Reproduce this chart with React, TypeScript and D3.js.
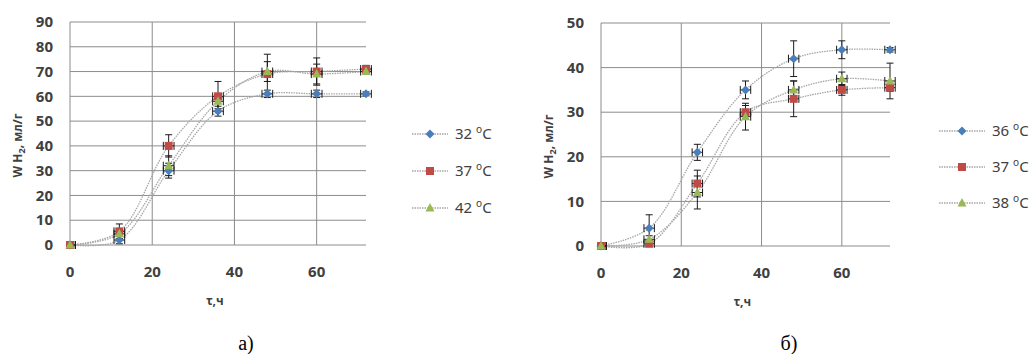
import * as d3 from "d3";

// ————— Data —————
const hours = [0, 12, 24, 36, 48, 60, 72];

// panel a)
const tempsA = ["32", "37", "42"];
const wA32 = [0, 2, 30, 54, 61, 61, 61];
const wA37 = [0, 5.5, 40, 60, 69, 70, 71];
const wA42 = [0, 4.5, 32, 58, 70, 69, 70];
const errA32 = [0.8, 1.5, 3, 2, 1.5, 1.5, 0.8];
const errA37 = [0.8, 3, 4.5, 6, 8, 5.5, 1.5];
const errA42 = [0.5, 2, 4, 3, 4, 4, 1];
const yTicksA = [0, 10, 20, 30, 40, 50, 60, 70, 80, 90];

// panel б)
const tempsB = ["36", "37", "38"];
const wB36 = [0, 4, 21, 35, 42, 44, 44];
const wB37 = [0, 0.5, 14, 30, 33, 35, 35.5];
const wB38 = [0, 1.5, 12, 29, 35, 37.5, 37];
const errB36 = [0.5, 3, 1.8, 2, 4, 2, 0.5];
const errB37 = [0.5, 0.8, 3, 1.5, 4, 1.2, 0.8];
const errB38 = [0.5, 0.8, 3.7, 3, 2, 1.5, 4];
const yTicksB = [0, 10, 20, 30, 40, 50];

const xTicks = [0, 20, 40, 60];
const xErr = 1.3;

const colors = ["#4a7ebb", "#be4b48", "#98b954"];
const textColor = "#404040";
const gridColor = "#8c8c8c";
const font = "'Noto Sans', 'Open Sans', sans-serif";

type Series = { label: string; values: number[]; errs: number[] };

type PanelProps = {
  left: number;
  right: number;
  top: number;
  bottom: number;
  yMax: number;
  yTicks: number[];
  series: Series[];
  legendX: number;
  legendW: number;
  legendY: number[];
  caption: string;
  captionX: number;
};

const Marker = ({ i, x, y }: { i: number; x: number; y: number }) => {
  if (i === 0) {
    const s = 4.5;
    return (
      <path
        d={`M${x},${y - s}L${x + s},${y}L${x},${y + s}L${x - s},${y}Z`}
        fill={colors[0]}
      />
    );
  }
  if (i === 1) {
    return <rect x={x - 4} y={y - 4} width={8} height={8} fill={colors[1]} />;
  }
  return (
    <path
      d={`M${x},${y - 5}L${x + 4.5},${y + 3.5}L${x - 4.5},${y + 3.5}Z`}
      fill={colors[2]}
    />
  );
};

const Panel = (p: PanelProps) => {
  const x = d3.scaleLinear().domain([0, 72]).range([p.left, p.right]);
  const y = d3.scaleLinear().domain([0, p.yMax]).range([p.bottom, p.top]);
  const line = d3
    .line<number>()
    .x((_, i) => x(hours[i]))
    .y((d) => y(d))
    .curve(d3.curveCatmullRom.alpha(0.5));

  return (
    <g>
      {/* grid */}
      {p.yTicks.map((t) => (
        <line
          key={"gy" + t}
          x1={p.left}
          x2={p.right}
          y1={y(t)}
          y2={y(t)}
          stroke={gridColor}
          strokeWidth={1}
        />
      ))}
      {xTicks.map((t) => (
        <line
          key={"gx" + t}
          x1={x(t)}
          x2={x(t)}
          y1={p.top}
          y2={p.bottom}
          stroke={gridColor}
          strokeWidth={1}
        />
      ))}
      {/* tick labels */}
      {p.yTicks.map((t) => (
        <text
          key={"ty" + t}
          x={p.left - 17}
          y={y(t)}
          dy="0.35em"
          textAnchor="end"
          fontSize={15}
          fontWeight="bold"
          fill={textColor}
        >
          {t}
        </text>
      ))}
      {xTicks.map((t) => (
        <text
          key={"tx" + t}
          x={x(t)}
          y={p.bottom + 27}
          dy="0.35em"
          textAnchor="middle"
          fontSize={15}
          fontWeight="bold"
          fill={textColor}
        >
          {t}
        </text>
      ))}
      {/* axis titles */}
      <text
        transform={`translate(${p.left - 52},${(p.top + p.bottom) / 2 + 12}) rotate(-90)`}
        textAnchor="middle"
        dy="0.35em"
        fontSize={12}
        fontWeight="bold"
        fill={textColor}
      >
        W H<tspan fontSize={9} dy="3">2</tspan>
        <tspan dy="-3">, мл/г</tspan>
      </text>
      <text
        x={(p.left + p.right) / 2 - 3}
        y={p.bottom + 56}
        dy="0.35em"
        textAnchor="middle"
        fontSize={12}
        fontWeight="bold"
        fill={textColor}
      >
        τ,ч
      </text>
      {/* curves */}
      {p.series.map((s, i) => (
        <path
          key={"c" + i}
          d={line(s.values) || ""}
          fill="none"
          stroke="#a6a6a6"
          strokeWidth={1.3}
          strokeDasharray="1.5,1"
        />
      ))}
      {/* error bars */}
      {p.series.map((s, i) =>
        s.values.map((v, j) => {
          const cx = x(hours[j]);
          const cy = y(v);
          const y1 = y(v + s.errs[j]);
          const y2 = y(Math.max(0, v - s.errs[j]));
          const x1 = x(Math.max(0, hours[j] - xErr));
          const x2 = x(hours[j] + xErr);
          return (
            <g key={`e${i}-${j}`} stroke="#1a1a1a" strokeWidth={1}>
              <line x1={cx} x2={cx} y1={y1} y2={y2} />
              <line x1={cx - 3.5} x2={cx + 3.5} y1={y1} y2={y1} />
              <line x1={cx - 3.5} x2={cx + 3.5} y1={y2} y2={y2} />
              <line x1={x1} x2={x2} y1={cy} y2={cy} />
              <line x1={x1} x2={x1} y1={cy - 4} y2={cy + 4} />
              <line x1={x2} x2={x2} y1={cy - 4} y2={cy + 4} />
            </g>
          );
        })
      )}
      {/* markers */}
      {p.series.map((s, i) =>
        s.values.map((v, j) => (
          <Marker key={`m${i}-${j}`} i={i} x={x(hours[j])} y={y(v)} />
        ))
      )}
      {/* legend */}
      {p.series.map((s, i) => (
        <g key={"l" + i}>
          <line
            x1={p.legendX}
            x2={p.legendX + p.legendW}
            y1={p.legendY[i]}
            y2={p.legendY[i]}
            stroke="#a6a6a6"
            strokeWidth={1.3}
            strokeDasharray="1.5,1"
          />
          <Marker i={i} x={p.legendX + p.legendW / 2} y={p.legendY[i]} />
          <text
            x={p.legendX + p.legendW + 7}
            y={p.legendY[i]}
            dy="0.35em"
            fontSize={15}
            fill={textColor}
          >
            {s.label} <tspan fontSize={10} dy="-6">o</tspan>
            <tspan dy="6">C</tspan>
          </text>
        </g>
      ))}
      {/* caption */}
      <text
        x={p.captionX}
        y={343}
        dy="0.35em"
        textAnchor="middle"
        fontSize={20}
        fontFamily="'Liberation Serif', 'DejaVu Serif', serif"
        fill="#000"
      >
        {p.caption}
      </text>
    </g>
  );
};

const App = () => {
  const seriesA: Series[] = [
    { label: tempsA[0], values: wA32, errs: errA32 },
    { label: tempsA[1], values: wA37, errs: errA37 },
    { label: tempsA[2], values: wA42, errs: errA42 },
  ];
  const seriesB: Series[] = [
    { label: tempsB[0], values: wB36, errs: errB36 },
    { label: tempsB[1], values: wB37, errs: errB37 },
    { label: tempsB[2], values: wB38, errs: errB38 },
  ];
  return (
    <svg
      width={1033}
      height={354}
      style={{ position: "absolute", left: 0, top: 0, background: "#fff" }}
      fontFamily={font}
    >
      <Panel
        left={70}
        right={366}
        top={22}
        bottom={245}
        yMax={90}
        yTicks={yTicksA}
        series={seriesA}
        legendX={412}
        legendW={36}
        legendY={[134, 171, 208]}
        caption="а)"
        captionX={246}
      />
      <Panel
        left={601}
        right={890}
        top={23}
        bottom={246}
        yMax={50}
        yTicks={yTicksB}
        series={seriesB}
        legendX={939}
        legendW={46}
        legendY={[131, 167, 203]}
        caption="б)"
        captionX={789}
      />
    </svg>
  );
};

export default App;
